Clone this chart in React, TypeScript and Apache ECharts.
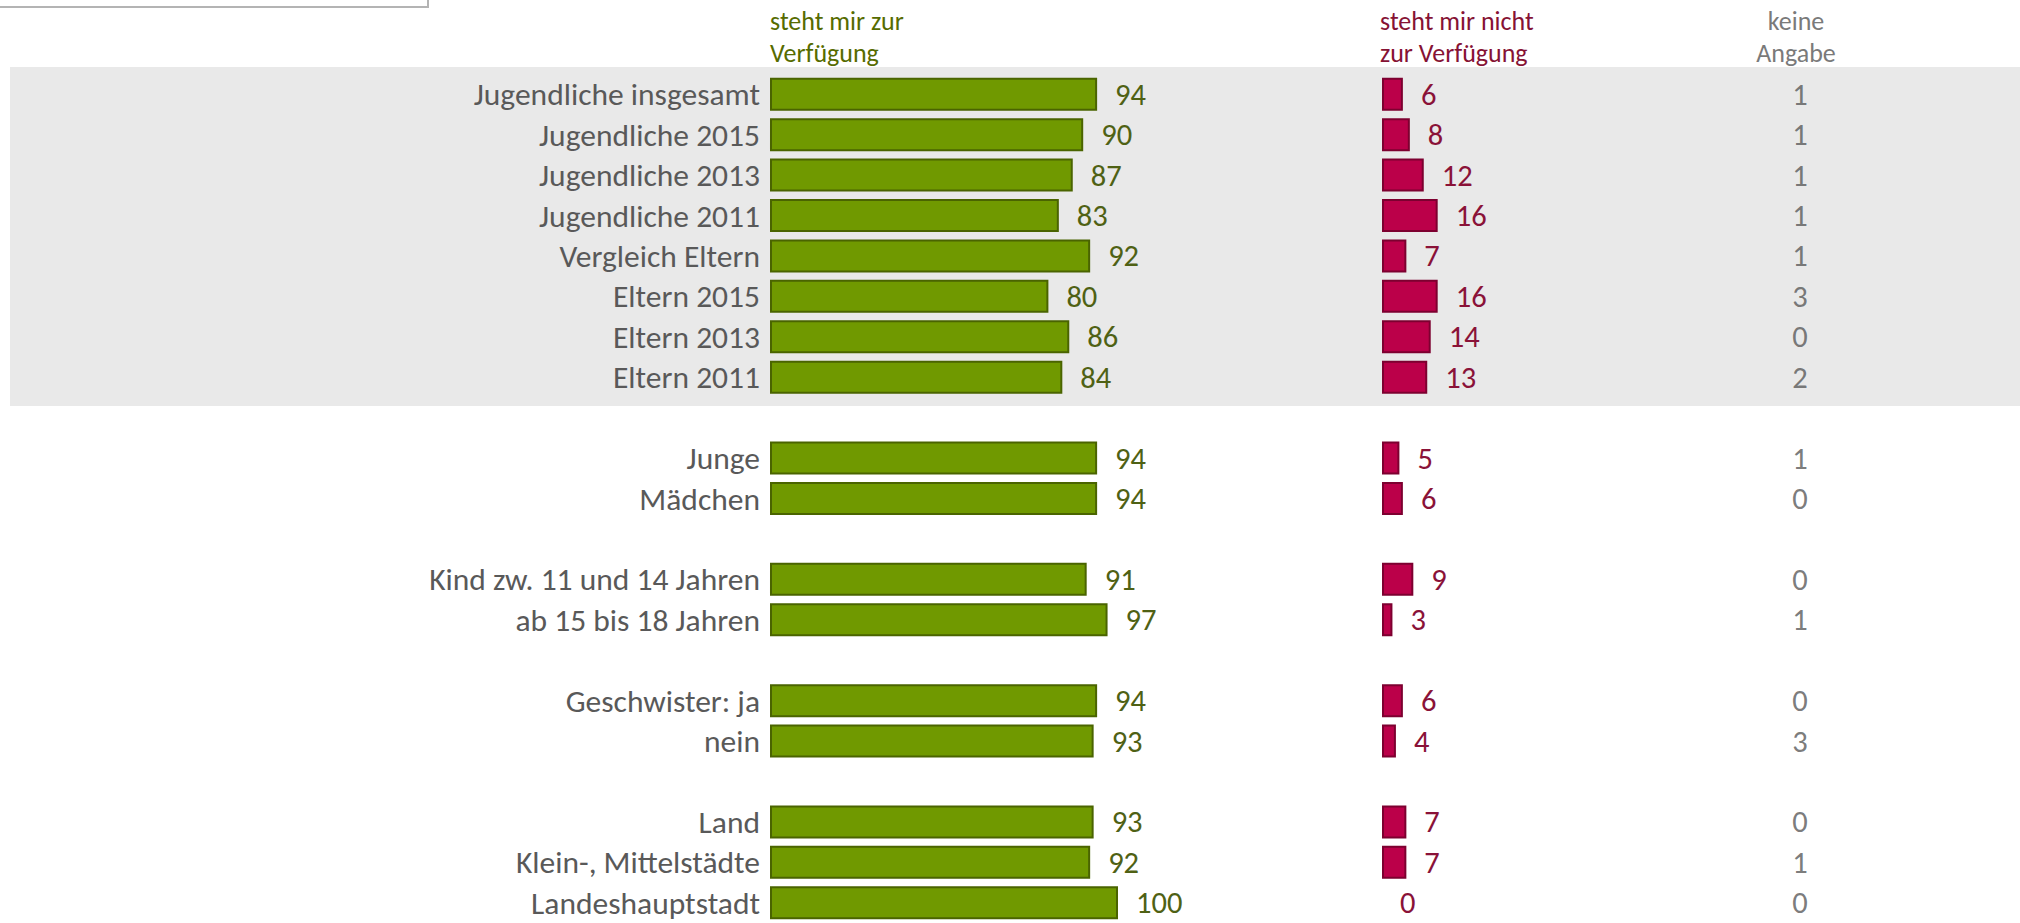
import React, { useEffect, useRef } from "react";
import * as echarts from "echarts";

const categories = [
  "Jugendliche insgesamt",
  "Jugendliche 2015",
  "Jugendliche 2013",
  "Jugendliche 2011",
  "Vergleich Eltern",
  "Eltern 2015",
  "Eltern 2013",
  "Eltern 2011",
  "",
  "Junge",
  "Mädchen",
  "",
  "Kind zw. 11 und 14 Jahren",
  "ab 15 bis 18 Jahren",
  "",
  "Geschwister: ja",
  "nein",
  "",
  "Land",
  "Klein-, Mittelstädte",
  "Landeshauptstadt",
];
const available = [94, 90, 87, 83, 92, 80, 86, 84, null, 94, 94, null, 91, 97, null, 94, 93, null, 93, 92, 100];
const notAvailable = [6, 8, 12, 16, 7, 16, 14, 13, null, 5, 6, null, 9, 3, null, 6, 4, null, 7, 7, 0];
const noAnswer = [1, 1, 1, 1, 1, 3, 0, 2, null, 1, 0, null, 0, 1, null, 0, 3, null, 0, 1, 0];

const headers = ["steht mir zur\nVerfügung", "steht mir nicht\nzur Verfügung", "keine\nAngabe"];

const FONT = 'Carlito, Calibri, Lato, "Open Sans", sans-serif';
const CAT_SIZE = 31.5;
const VAL_SIZE = 30.5;
const HEAD_SIZE = 26;

export default function App() {
  const ref = useRef<HTMLDivElement>(null);
  useEffect(() => {
    if (!ref.current) return;
    const chart = echarts.init(ref.current, null, { renderer: "svg" });
    const top = 74;
    const height = 856;
    const catAxis = (gi: number, showLabels: boolean) => ({
      type: "category",
      gridIndex: gi,
      data: categories,
      inverse: true,
      axisLine: { show: false },
      axisTick: { show: false },
      splitLine: { show: false },
      axisLabel: {
        show: showLabels,
        interval: 0,
        hideOverlap: false,
        margin: 10,
        color: "#595959",
        fontSize: CAT_SIZE,
        fontFamily: FONT,
      },
    });
    const valAxis = (gi: number, min: number, max: number) => ({
      type: "value",
      gridIndex: gi,
      min,
      max,
      show: false,
    });
    const headStyle = {
      fontSize: HEAD_SIZE,
      fontFamily: FONT,
      lineHeight: 32,
      verticalAlign: "top",
    };
    chart.setOption({
      animation: false,
      backgroundColor: "#ffffff",
      grid: [
        { left: 770, top, height, width: 348 },
        { left: 1382, top, height, width: 348 },
        { left: 1700, top, height, width: 200 },
      ],
      xAxis: [valAxis(0, 0, 100), valAxis(1, 0, 100), valAxis(2, -1, 1)],
      yAxis: [catAxis(0, true), catAxis(1, false), catAxis(2, false)],
      graphic: [
        {
          type: "rect",
          z: -10,
          silent: true,
          shape: { x: 10, y: 67, width: 2010, height: 339 },
          style: { fill: "#e9e9e9" },
        },
        {
          type: "rect",
          silent: true,
          shape: { x: -2, y: -20, width: 430, height: 27 },
          style: { fill: "#ffffff", stroke: "#b4b4b4", lineWidth: 2 },
        },
        {
          type: "text",
          x: 770,
          y: 5,
          style: { ...headStyle, text: headers[0], fill: "#566b00" },
        },
        {
          type: "text",
          x: 1380,
          y: 5,
          style: { ...headStyle, text: headers[1], fill: "#861234" },
        },
        {
          type: "text",
          x: 1796,
          y: 5,
          style: { ...headStyle, text: headers[2], fill: "#7a7a7a", align: "center" },
        },
      ],
      series: [
        {
          type: "bar",
          xAxisIndex: 0,
          yAxisIndex: 0,
          data: available,
          barWidth: 33,
          itemStyle: { color: "#709900", borderColor: "#4a6400", borderWidth: 2 },
          label: {
            show: true,
            position: "right",
            distance: 18,
            color: "#4f6114",
            fontSize: VAL_SIZE,
            fontFamily: FONT,
          },
        },
        {
          type: "bar",
          xAxisIndex: 1,
          yAxisIndex: 1,
          data: notAvailable.map((v) =>
            v === 0
              ? { value: 0, itemStyle: { borderWidth: 0, color: "rgba(0,0,0,0)" } }
              : v
          ),
          barWidth: 33,
          itemStyle: { color: "#bb0049", borderColor: "#7d0030", borderWidth: 2 },
          label: {
            show: true,
            position: "right",
            distance: 18,
            color: "#8a1238",
            fontSize: VAL_SIZE,
            fontFamily: FONT,
          },
        },
        {
          type: "scatter",
          xAxisIndex: 2,
          yAxisIndex: 2,
          symbolSize: 0,
          data: noAnswer
            .map((v, i) => (v === null ? null : { value: [0, i], name: String(v) }))
            .filter((d) => d !== null),
          label: {
            show: true,
            position: "inside",
            formatter: "{b}",
            color: "#595959",
            fontSize: VAL_SIZE,
            fontFamily: FONT,
          },
        },
      ],
    });
    return () => chart.dispose();
  }, []);
  return (
    <div
      ref={ref}
      style={{ position: "absolute", left: 0, top: 0, width: 2020, height: 923 }}
    />
  );
}
